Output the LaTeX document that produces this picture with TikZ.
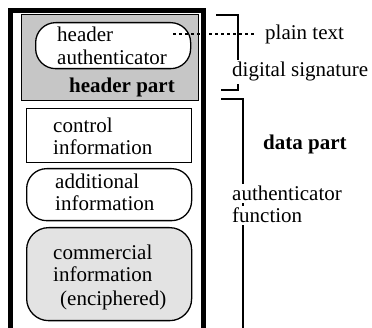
\documentclass[tikz,border=0pt]{standalone}
\usepackage{fontspec}
\setmainfont{Liberation Serif}
\begin{document}
\begin{tikzpicture}[x=1pt,y=-1pt,
  txt/.style={inner sep=0pt, anchor=base west, font=\fontsize{21}{22}\selectfont},
  boldtxt/.style={txt, font=\fontsize{21}{22}\selectfont\bfseries},
  lbl/.style={txt, fill=white, inner xsep=1pt, inner ysep=2pt},
  box/.style={draw, line width=1.3pt, inner sep=0pt, anchor=north west},
  roundbox/.style={box, rounded corners=20pt},
  frame/.style={line width=5pt},
  bracket/.style={line width=1.2pt},
  dotline/.style={line width=2pt, dash pattern=on 3pt off 3pt}
]
\useasboundingbox (0,0) rectangle (372,328);
% outer frame
\coordinate (fbl) at (10,330);
\coordinate (ftl) at (10,11);
\coordinate (ftr) at (203,11);
\coordinate (fbr) at (203,330);
\draw[frame] (fbl) -- (ftl) -- (ftr) -- (fbr);
% header part
\node[box, fill=gray!45, minimum width=177pt, minimum height=86pt] (hdr) at (21,14) {};
\node[roundbox, fill=white, minimum width=155pt, minimum height=46pt] (hauth) at (35,22) {};
\node[txt] (hauth1) at (57,42) {header};
\node[txt] (hauth2) at (57,65) {authenticator};
\node[boldtxt] (hpart) at (69,93) {header part};
% control information
\node[box, minimum width=165pt, minimum height=54pt] (ctrl) at (26,108) {};
\node[txt] (ctrl1) at (53,133) {control};
\node[txt] (ctrl2) at (53,155) {information};
% additional information
\node[roundbox, minimum width=165pt, minimum height=52pt] (add) at (26,168) {};
\node[txt] (add1) at (55,189) {additional};
\node[txt] (add2) at (55,211) {information};
% commercial information
\node[roundbox, rounded corners=22pt, fill=gray!22, minimum width=165pt, minimum height=93pt] (com) at (26,227) {};
\node[txt] (com1) at (53,260) {commercial};
\node[txt] (com2) at (53,282) {information};
\node[txt] (com3) at (60,306) {(enciphered)};
% brackets
\coordinate (b1a) at (216,15);
\coordinate (b1b) at (238,15);
\coordinate (b1c) at (238,90);
\coordinate (b1d) at (221,90);
\draw[bracket] (b1a) -- (b1b) -- (b1c) -- (b1d);
\coordinate (b2a) at (221,99);
\coordinate (b2b) at (243,99);
\coordinate (b2c) at (243,330);
\draw[bracket] (b2a) -- (b2b) -- (b2c);
% dotted link
\coordinate (dstart) at (173,34);
\coordinate (dend) at (254,34);
\node[txt] (plain) at (265,40) {plain text};
\draw[dotline] (dstart) -- (dend);
% labels
\node[lbl] (dsig) at (231,77) {digital signature};
\node[boldtxt] (dpart) at (263,150) {data part};
\node[lbl] (af1) at (231,201) {authenticator};
\node[lbl] (af2) at (231,223) {function};
\end{tikzpicture}
\end{document}
